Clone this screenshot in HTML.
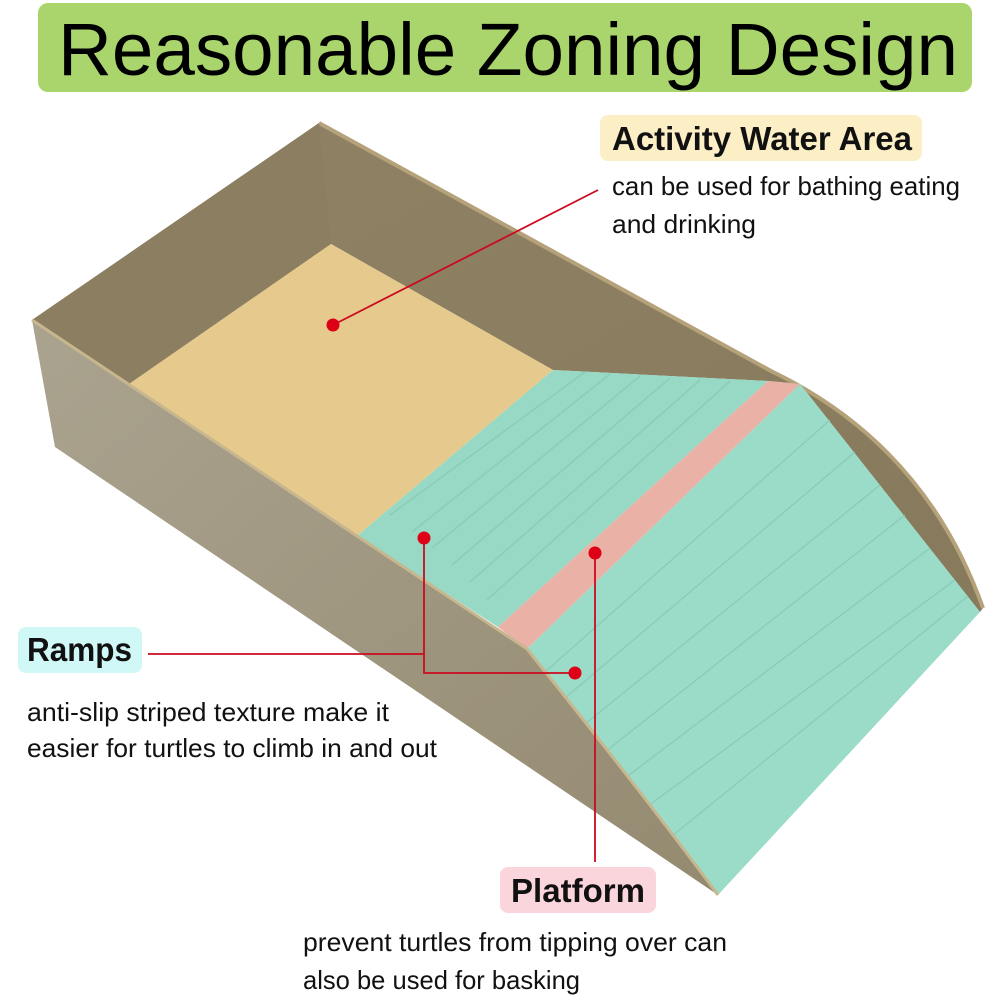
<!DOCTYPE html>
<html><head><meta charset="utf-8"><style>
html,body{margin:0;padding:0;background:#fff;width:1000px;height:1000px;overflow:hidden}
svg{display:block}
</style></head><body>
<svg width="1000" height="1000" viewBox="0 0 1000 1000" xmlns="http://www.w3.org/2000/svg">
<defs>
<linearGradient id="front" x1="0" y1="0" x2="1" y2="1">
<stop offset="0" stop-color="#aaa38f"/><stop offset="1" stop-color="#948a70"/>
</linearGradient>
<linearGradient id="back" x1="0" y1="0" x2="1" y2="1">
<stop offset="0" stop-color="#908264"/><stop offset="1" stop-color="#877a5c"/>
</linearGradient>
</defs>
<!-- title -->
<rect x="38" y="3" width="934" height="89" rx="10" fill="#aad46c"/>
<text x="58" y="75" font-family="Liberation Sans, sans-serif" font-size="74" textLength="900" lengthAdjust="spacingAndGlyphs" fill="#000">Reasonable Zoning Design</text>

<!-- back wall interior + right wall -->
<path d="M32,320 L319,123 L771,371 Q925,445 983,608 L980,612 L800,384 L768,381 L553,370 L331,244 L129,384 Z" fill="url(#back)"/>
<path d="M319,123 L771,371 Q925,445 983,608" fill="none" stroke="#b5a27a" stroke-width="4"/>
<path d="M32,320 L319,123 L331,244 L129,384 Z" fill="#8c7e60"/>
<!-- yellow floor -->
<path d="M129,384 L331,244 L553,370 L357,536 Z" fill="#e6c98c"/>
<!-- mint left ramp part -->
<path d="M357,536 L553,370 L768,381 L498,627 Z" fill="#97d9c4"/>
<!-- pink stripe -->
<path d="M768,381 L800,384 L527,649 L498,627 Z" fill="#eab1a6"/>
<!-- mint right ramp part -->
<path d="M800,384 L980,612 L718,895 Q640,790 527,649 Z" fill="#9bdcc9"/>
<!-- ramp stripes -->
<g stroke="#86c7b3" stroke-width="1.3" fill="none" opacity="0.8">
<path d="M390,515 L585,372"/><path d="M412,532 L610,374"/><path d="M432,548 L640,376"/><path d="M452,565 L670,378"/><path d="M470,582 L700,380"/><path d="M487,600 L730,381"/>
<path d="M545,672 L830,420"/><path d="M565,698 L855,452"/><path d="M585,724 L880,485"/><path d="M605,752 L905,515"/><path d="M625,778 L930,548"/><path d="M648,806 L955,580"/><path d="M672,836 L968,596"/>
</g>
<!-- front wall outer face -->
<path d="M32,320 L357,536 L527,649 Q640,790 718,895 L55,447 Z" fill="url(#front)"/>
<path d="M32,320 L357,536 L527,649 Q640,790 718,895" fill="none" stroke="#c8b68f" stroke-width="3"/>

<!-- callouts -->
<g stroke="#cc0a1e" stroke-width="1.8" fill="none">
<line x1="333" y1="325" x2="598" y2="190"/>
<polyline points="148,654 424,654"/>
<polyline points="424,538 424,673 575,673"/>
<line x1="595" y1="553" x2="595" y2="862"/>
</g>
<g fill="#dd0016">
<circle cx="333" cy="325" r="6.5"/>
<circle cx="424" cy="538" r="6.5"/>
<circle cx="575" cy="673" r="6.5"/>
<circle cx="595" cy="553" r="6.5"/>
</g>

<!-- labels -->
<g font-family="Liberation Sans, sans-serif" fill="#111">
<rect x="600" y="115" width="322" height="46" rx="8" fill="#fcefc6"/>
<text x="612" y="150" font-size="33" font-weight="bold" textLength="300" lengthAdjust="spacingAndGlyphs">Activity Water Area</text>
<text x="612" y="195" font-size="26" textLength="348" lengthAdjust="spacingAndGlyphs">can be used for bathing eating</text>
<text x="612" y="233" font-size="26" textLength="144" lengthAdjust="spacingAndGlyphs">and drinking</text>

<rect x="18" y="627" width="124" height="46" rx="8" fill="#d0f8f6"/>
<text x="27" y="661" font-size="33" font-weight="bold" textLength="105" lengthAdjust="spacingAndGlyphs">Ramps</text>
<text x="27" y="721" font-size="26" textLength="362" lengthAdjust="spacingAndGlyphs">anti-slip striped texture make it</text>
<text x="27" y="757" font-size="26" textLength="410" lengthAdjust="spacingAndGlyphs">easier for turtles to climb in and out</text>

<rect x="500" y="867" width="156" height="46" rx="8" fill="#fbd5dc"/>
<text x="511" y="902" font-size="33" font-weight="bold" textLength="134" lengthAdjust="spacingAndGlyphs">Platform</text>
<text x="303" y="951" font-size="26" textLength="424" lengthAdjust="spacingAndGlyphs">prevent turtles from tipping over can</text>
<text x="303" y="989" font-size="26" textLength="277" lengthAdjust="spacingAndGlyphs">also be used for basking</text>
</g>
</svg>
</body></html>
